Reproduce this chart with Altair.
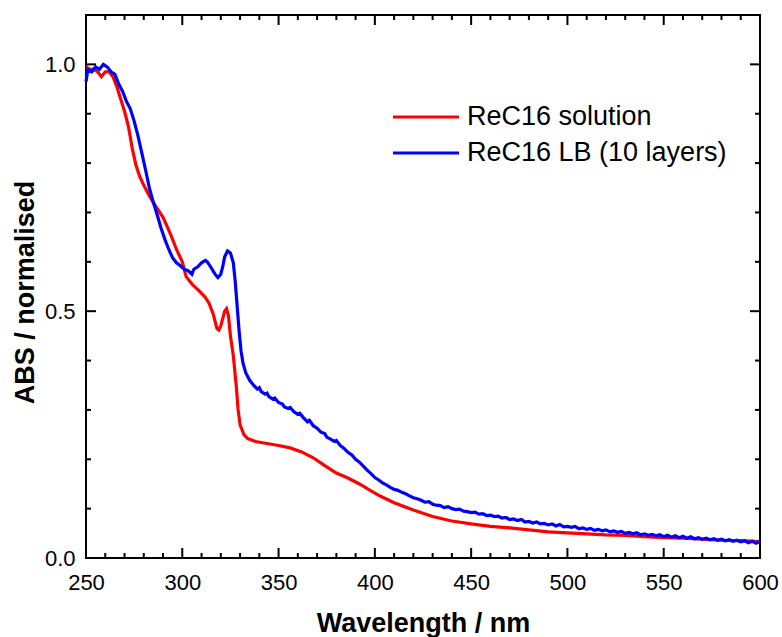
import altair as alt
import pandas as pd

# ---- data ----
sol_nm = [250, 252, 254, 256, 258, 260, 262, 264, 266, 268, 270, 272, 274, 276, 278, 280,
          283, 286, 290, 294, 297, 300, 302, 305, 309, 312, 314, 316, 318, 319, 320, 322,
          323, 324, 325, 326.5, 328, 329, 330, 332, 334, 338, 344, 350, 356, 362, 368,
          374, 380, 386, 392, 398, 403, 410, 420, 430, 440, 450, 460, 470, 480, 490, 500,
          510, 520, 530, 540, 550, 560, 570, 580, 590, 600]
sol_abs = [0.995, 0.99, 0.99, 0.985, 0.975, 0.985, 0.985, 0.975, 0.955, 0.93, 0.905, 0.875,
           0.83, 0.795, 0.772, 0.755, 0.733, 0.714, 0.69, 0.655, 0.625, 0.6, 0.57, 0.555,
           0.54, 0.528, 0.515, 0.495, 0.465, 0.462, 0.47, 0.5, 0.505, 0.49, 0.45, 0.41, 0.35,
           0.3, 0.27, 0.25, 0.242, 0.236, 0.232, 0.228, 0.223, 0.215, 0.203, 0.187, 0.172,
           0.162, 0.15, 0.136, 0.125, 0.112, 0.097, 0.084, 0.075, 0.069, 0.064, 0.061, 0.057,
           0.053, 0.051, 0.049, 0.047, 0.046, 0.043, 0.041, 0.04, 0.038, 0.036, 0.035, 0.033]

lb_nm = [250, 251, 253, 255, 257, 259, 261, 263, 265, 267, 269, 271, 273, 275, 277, 279,
         281, 283, 285, 287, 289, 291, 293, 295, 297, 299, 301, 303, 305, 306, 308, 310,
         312, 313, 315, 317, 318.5, 320, 321, 322, 323.5, 325, 326.5, 327.5, 328.5, 329.5,
         330.5, 331.5, 333, 335, 337, 339, 340, 341, 343, 344, 345, 347, 348, 350, 352, 353,
         355, 356, 358, 360, 361, 363, 365, 366, 368, 370, 372, 374, 375, 377, 379, 380,
         382, 384, 386, 388, 390, 392, 394, 396, 398, 400, 402, 404, 406, 408, 410, 412,
         414, 416, 418, 420, 422, 424, 426, 428, 430, 432, 434, 436, 438, 440, 442, 444,
         446, 448, 450, 452, 454, 456, 458, 460, 462, 464, 466, 468, 470, 472, 474, 476,
         478, 480, 482, 484, 486, 488, 490, 492, 494, 496, 498, 500, 502, 504, 506, 508,
         510, 512, 514, 516, 518, 520, 522, 524, 526, 528, 530, 532, 534, 536, 538, 540,
         542, 544, 546, 548, 550, 552, 554, 556, 558, 560, 562, 564, 566, 568, 570, 572,
         574, 576, 578, 580, 582, 584, 586, 588, 590, 592, 594, 596, 598, 600]
lb_abs = [0.965, 0.99, 0.985, 0.995, 0.99, 1.0, 0.995, 0.985, 0.98, 0.96, 0.945, 0.925,
          0.91, 0.885, 0.855, 0.82, 0.785, 0.748, 0.72, 0.695, 0.668, 0.645, 0.625, 0.608,
          0.598, 0.592, 0.585, 0.582, 0.575, 0.585, 0.59, 0.598, 0.603, 0.6, 0.588, 0.575,
          0.568, 0.575, 0.59, 0.61, 0.622, 0.618, 0.598, 0.56, 0.51, 0.46, 0.42, 0.395,
          0.375, 0.36, 0.35, 0.342, 0.345, 0.337, 0.332, 0.334, 0.327, 0.322, 0.324, 0.315,
          0.312, 0.306, 0.303, 0.305, 0.296, 0.291, 0.293, 0.284, 0.276, 0.279, 0.268, 0.263,
          0.255, 0.252, 0.245, 0.241, 0.236, 0.238, 0.228, 0.222, 0.214, 0.209, 0.2, 0.194,
          0.186, 0.178, 0.171, 0.163, 0.158, 0.152, 0.148, 0.143, 0.139, 0.137, 0.133, 0.13,
          0.126, 0.122, 0.12, 0.117, 0.113, 0.114, 0.109, 0.107, 0.106, 0.102, 0.104, 0.1,
          0.098, 0.099, 0.095, 0.094, 0.092, 0.093, 0.089, 0.09, 0.086, 0.087, 0.084, 0.085,
          0.081, 0.082, 0.078, 0.079, 0.076, 0.078, 0.073, 0.074, 0.071, 0.073, 0.069, 0.07,
          0.067, 0.069, 0.065, 0.068, 0.063, 0.064, 0.062, 0.064, 0.059, 0.061, 0.058, 0.06,
          0.056, 0.058, 0.055, 0.057, 0.053, 0.055, 0.052, 0.054, 0.05, 0.052, 0.049, 0.051,
          0.047, 0.049, 0.046, 0.048, 0.045, 0.047, 0.043, 0.046, 0.042, 0.045, 0.041, 0.044,
          0.04, 0.043, 0.039, 0.041, 0.038, 0.04, 0.037, 0.039, 0.036, 0.038, 0.035, 0.037,
          0.034, 0.036, 0.033, 0.035, 0.031, 0.034, 0.03, 0.034]

series_names = ["ReC16 solution", "ReC16 LB (10 layers)"]
series_colors = ["#ff0000", "#0000ff"]

x_major = [250, 300, 350, 400, 450, 500, 550, 600]
x_minor = [260, 270, 280, 290, 310, 320, 330, 340, 360, 370, 380, 390, 410, 420, 430, 440,
           460, 470, 480, 490, 510, 520, 530, 540, 560, 570, 580, 590]
y_major = [0.0, 0.5, 1.0]
y_minor = [0.1, 0.2, 0.3, 0.4, 0.6, 0.7, 0.8, 0.9]

W, H = 674, 543
FONT = "Liberation Sans"

df = pd.concat([
    pd.DataFrame({"nm": sol_nm, "abs": sol_abs, "series": series_names[0], "order": range(len(sol_nm))}),
    pd.DataFrame({"nm": lb_nm, "abs": lb_abs, "series": series_names[1], "order": range(len(lb_nm))}),
])

xscale = alt.Scale(domain=[250, 600], nice=False, zero=False)
yscale = alt.Scale(domain=[0, 1.1], nice=False, zero=False)

lines = alt.Chart(df).mark_line(strokeWidth=3.2).encode(
    x=alt.X("nm:Q", scale=xscale,
            axis=alt.Axis(values=x_major, title="Wavelength / nm", format="d",
                          tickSize=0, domain=False, grid=False, labelPadding=14,
                          labelFlush=False, labelOverlap=False,
                          labelFontSize=22, labelFont=FONT, labelColor="#000",
                          titleFont=FONT, titleFontSize=27, titleFontWeight="bold",
                          titleColor="#000", titleBaseline="alphabetic", titleY=73)),
    y=alt.Y("abs:Q", scale=yscale,
            axis=alt.Axis(values=y_major, title="ABS / normalised", format=".1f",
                          tickSize=0, domain=False, grid=False, labelPadding=11,
                          labelFlush=False, labelOverlap=False,
                          labelFontSize=22, labelFont=FONT, labelColor="#000",
                          titleFont=FONT, titleFontSize=27, titleFontWeight="bold",
                          titleColor="#000", titleBaseline="alphabetic", titleX=-53,
                          titleY=277)),
    color=alt.Color("series:N", scale=alt.Scale(domain=series_names, range=series_colors),
                    legend=alt.Legend(title=None, orient="none", legendX=326.5, legendY=88.5,
                                      symbolType="M-4,0H4", symbolSize=272.25,
                                      symbolStrokeWidth=3, labelFontSize=27, labelFont=FONT,
                                      labelColor="#000", labelOffset=27.5, rowPadding=8,
                                      padding=0, labelLimit=400)),
    order="order:Q",
)

def xticks(vals, length, top):
    d = pd.DataFrame({"t": vals})
    if top:
        ya, yb = 0, length
    else:
        ya, yb = H, H - length
    return alt.Chart(d).mark_rule(color="#000", strokeWidth=2).encode(
        x=alt.X("t:Q", scale=xscale), y=alt.value(ya), y2=alt.value(yb))

def yticks(vals, length, right):
    d = pd.DataFrame({"t": vals})
    if right:
        xa, xb = W, W - length
    else:
        xa, xb = 0, length
    return alt.Chart(d).mark_rule(color="#000", strokeWidth=2).encode(
        y=alt.Y("t:Q", scale=yscale), x=alt.value(xa), x2=alt.value(xb))

ticks = [
    xticks(x_major, 10, False), xticks(x_minor, 5, False),
    xticks(x_major, 10, True), xticks(x_minor, 5, True),
    yticks(y_major, 10, False), yticks(y_minor, 5, False),
    yticks(y_major, 10, True), yticks(y_minor, 5, True),
]

chart = alt.layer(lines, *ticks).properties(
    width=W, height=H,
    autosize=alt.AutoSizeParams(type="none"),
    padding={"left": 86, "top": 15, "right": 22, "bottom": 79},
    background="white",
).configure_view(stroke="#000", strokeWidth=2)

chart.save("out.html", embed_options={"renderer": "svg", "actions": False})
